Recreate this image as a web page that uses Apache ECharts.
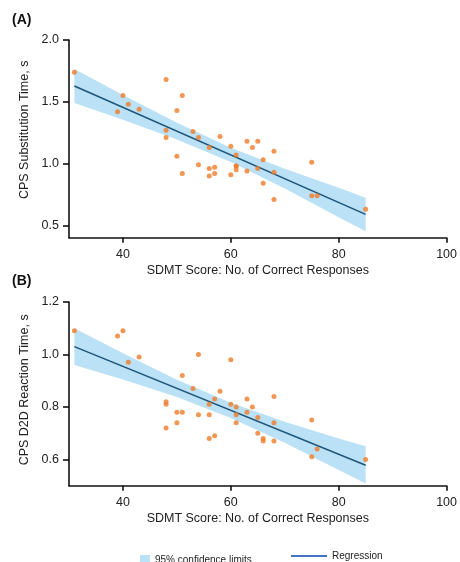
<!DOCTYPE html>
<html>
<head>
<meta charset="utf-8">
<script src="https://cdn.jsdelivr.net/npm/echarts@6/dist/echarts.min.js"></script>
<style>
  html, body { margin: 0; padding: 0; background: #fff; }
  #chart { width: 460px; height: 562px; }
</style>
</head>
<body>
<div id="chart"></div>
<script>
// Panel A: CPS substitution time vs SDMT score
const sdmtA = [31, 40, 41, 39, 43, 48, 51, 50, 48, 48, 53, 54, 58, 56, 50, 54, 51, 56, 57, 57, 56,
    60, 61, 63, 65, 64, 61, 61, 60, 61, 63, 65, 66, 68, 68, 66, 68, 75, 75, 76, 85];
const timeA = [1.74, 1.55, 1.48, 1.42, 1.44, 1.68, 1.55, 1.43, 1.27, 1.21, 1.26, 1.21, 1.22, 1.13, 1.06, 0.99, 0.92, 0.96, 0.97, 0.92, 0.90,
    1.14, 1.07, 1.18, 1.18, 1.13, 0.98, 0.98, 0.91, 0.95, 0.94, 0.96, 1.03, 1.10, 0.93, 0.84, 0.71, 1.01, 0.74, 0.74, 0.63];

// Panel B: CPS D2D reaction time vs SDMT score
const sdmtB = [31, 39, 40, 41, 43, 54, 51, 53, 58, 57, 56, 48, 48, 50, 51, 54, 56, 50, 48, 56, 57,
    60, 60, 61, 61, 61, 63, 64, 63, 65, 65, 66, 66, 68, 68, 68, 75, 75, 76, 85];
const timeB = [1.09, 1.07, 1.09, 0.97, 0.99, 1.00, 0.92, 0.87, 0.86, 0.83, 0.81, 0.81, 0.82, 0.78, 0.78, 0.77, 0.77, 0.74, 0.72, 0.68, 0.69,
    0.98, 0.81, 0.80, 0.77, 0.74, 0.83, 0.80, 0.78, 0.76, 0.70, 0.68, 0.67, 0.84, 0.74, 0.67, 0.75, 0.61, 0.64, 0.60];

// regression line end points and 95% confidence band
const fitX = [31, 85];
const fitA = [1.628, 0.589];
const fitB = [1.030, 0.578];
const bandX = [31, 40, 50, 60, 70, 80, 85];
const lowerA = [1.49, 1.355, 1.194, 1.012, 0.798, 0.565, 0.452];
const upperA = [1.765, 1.555, 1.33, 1.128, 0.958, 0.805, 0.724];
const lowerB = [0.96, 0.905, 0.838, 0.758, 0.664, 0.56, 0.508];
const upperB = [1.10, 1.005, 0.904, 0.816, 0.744, 0.68, 0.65];

// axis ticks
const xTicks = [40, 60, 80, 100];
const yTicksA = [0.5, 1.0, 1.5, 2.0];
const yTicksB = [0.6, 0.8, 1.0, 1.2];

const xTitle = 'SDMT Score: No. of Correct Responses';
const bandName = '95% confidence limits';
const lineName = 'Regression';

const FONT = 'Liberation Sans, Arial, sans-serif';
const ORANGE = '#f07c28';
const BAND = '#bae1f6';
const LINE = '#1f5478';
const LEGEND_LINE = '#4472c4';

function zip(xs, ys) {
    return xs.map(function (x, i) { return [x, ys[i]]; });
}

function xAxisFor(index) {
    return {
        type: 'value', gridIndex: index, min: 30, max: 100,
        name: xTitle, nameLocation: 'middle', nameGap: 26,
        nameTextStyle: { fontFamily: FONT, fontSize: 12.5, color: '#222' },
        axisLine: { lineStyle: { color: '#111', width: 1.6 } },
        axisTick: { customValues: xTicks, length: 5, lineStyle: { color: '#111', width: 1.6 } },
        axisLabel: { customValues: xTicks, margin: 10, fontFamily: FONT, fontSize: 12.5, color: '#222' },
        splitLine: { show: false }
    };
}

function yAxisFor(index, min, max, ticks, title, pad) {
    return {
        type: 'value', gridIndex: index, min: min, max: max,
        name: title, nameLocation: 'middle', nameGap: 37,
        nameTextStyle: { fontFamily: FONT, fontSize: 12.5, color: '#222', padding: pad },
        axisLine: { show: true, lineStyle: { color: '#111', width: 1.6 } },
        axisTick: { show: true, customValues: ticks, length: 6, lineStyle: { color: '#111', width: 1.6 } },
        axisLabel: {
            customValues: ticks, margin: 10, fontFamily: FONT, fontSize: 12.5, color: '#222',
            formatter: function (v) { return v.toFixed(1); }
        },
        splitLine: { show: false }
    };
}

/**
 * Confidence band as one polygon: upper edge left to right, lower edge back.
 */
function bandSeries(index, lower, upper) {
    const rows = bandX.map(function (x, i) { return [x, lower[i], upper[i]]; });
    return {
        name: bandName, type: 'custom', xAxisIndex: index, yAxisIndex: index,
        data: rows, encode: { x: 0, y: [1, 2] }, silent: true, z: 1,
        itemStyle: { color: BAND },
        renderItem: function (params, api) {
            if (params.dataIndex !== 0) {
                return null;
            }
            const top = rows.map(function (r) { return api.coord([r[0], r[2]]); });
            const bottom = rows.map(function (r) { return api.coord([r[0], r[1]]); }).reverse();
            return {
                type: 'polygon',
                shape: { points: top.concat(bottom) },
                style: { fill: BAND }
            };
        }
    };
}

function panelSeries(index, lower, upper, fit, xs, ys) {
    return [
        bandSeries(index, lower, upper),
        {
            name: lineName, type: 'line', xAxisIndex: index, yAxisIndex: index,
            data: zip(fitX, fit), symbol: 'none',
            lineStyle: { color: LINE, width: 1.5 }, itemStyle: { color: LEGEND_LINE }, z: 2
        },
        {
            type: 'scatter', xAxisIndex: index, yAxisIndex: index,
            data: zip(xs, ys), symbolSize: 5,
            itemStyle: { color: ORANGE }, z: 3
        }
    ];
}

const chart = echarts.init(document.getElementById('chart'));

const options = {
    animation: false,
    textStyle: { fontFamily: FONT },
    grid: [
        { left: 69, right: 4, top: 40, height: 197.7 },
        { left: 69, right: 4, top: 302, height: 183.7 }
    ],
    xAxis: [xAxisFor(0), xAxisFor(1)],
    yAxis: [
        yAxisFor(0, 0.4, 2.0, yTicksA, 'CPS Substitution Time, s', [0, 0, 0, 18]),
        yAxisFor(1, 0.5, 1.2, yTicksB, 'CPS D2D Reaction Time, s', [0, 0, 0, 8])
    ],
    legend: [
        {
            data: [{ name: bandName, icon: 'rect', itemStyle: { color: BAND } }],
            left: 135, top: 550, itemWidth: 10, itemHeight: 10, itemGap: 8,
            textStyle: { fontFamily: FONT, fontSize: 10, color: '#222' },
            selectedMode: false
        },
        {
            data: [{ name: lineName, icon: 'rect', itemStyle: { color: LEGEND_LINE } }],
            left: 286, top: 546, itemWidth: 36, itemHeight: 2, itemGap: 8,
            textStyle: { fontFamily: FONT, fontSize: 10, color: '#222' },
            selectedMode: false
        }
    ],
    graphic: [
        { type: 'text', left: 12, top: 13, style: { text: '(A)', font: 'bold 14px ' + FONT, fill: '#111' } },
        { type: 'text', left: 12, top: 274, style: { text: '(B)', font: 'bold 14px ' + FONT, fill: '#111' } }
    ],
    series: panelSeries(0, lowerA, upperA, fitA, sdmtA, timeA)
        .concat(panelSeries(1, lowerB, upperB, fitB, sdmtB, timeB))
};

chart.setOption(options);
</script>
</body>
</html>
